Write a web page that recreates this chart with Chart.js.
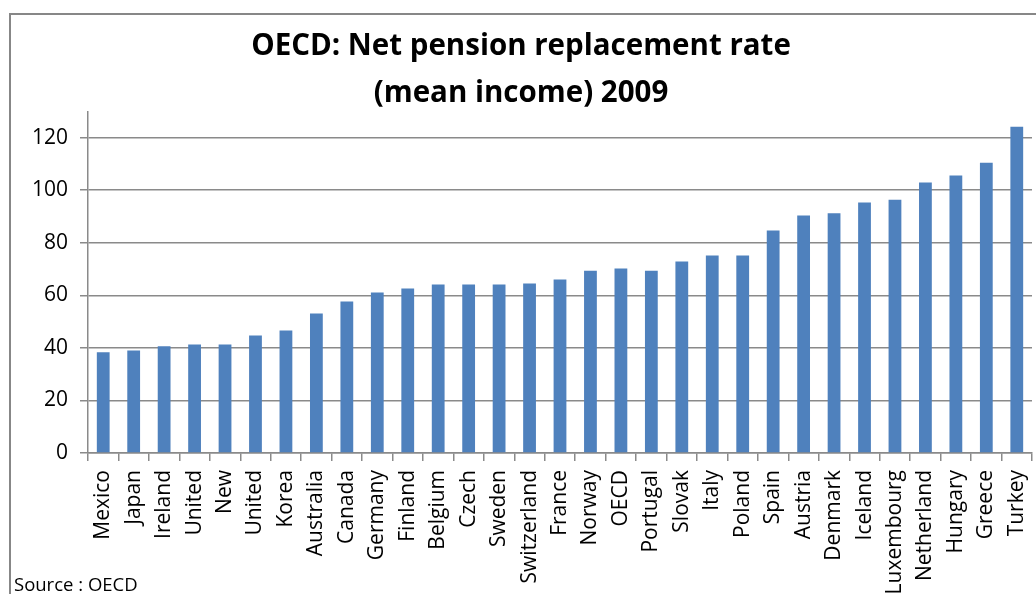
<!DOCTYPE html>
<html>
<head>
<meta charset="utf-8">
<script src="https://cdn.jsdelivr.net/npm/chart.js@4"></script>
<style>
  html, body { margin: 0; padding: 0; background: #fff; overflow: hidden; }
  #wrap { position: relative; width: 1036px; height: 594px; }
  #frame { position: absolute; left: 9px; top: 13px; width: 1100px; height: 700px;
           border: 2px solid #878787; box-sizing: border-box; }
  #c { position: absolute; left: 0; top: 0; }
  #source { position: absolute; left: 14px; top: 571px; font: 18.5px "Open Sans", sans-serif; color: #000; }
</style>
</head>
<body>
<div id="wrap">
  <div id="frame"></div>
  <canvas id="c" width="1036" height="594"></canvas>
  <div id="source">Source : OECD</div>
</div>
<script>
// Страны и значения (чистый коэффициент замещения, %)
const countries = ['Mexico', 'Japan', 'Ireland', 'United', 'New', 'United', 'Korea', 'Australia',
  'Canada', 'Germany', 'Finland', 'Belgium', 'Czech', 'Sweden', 'Switzerland', 'France',
  'Norway', 'OECD', 'Portugal', 'Slovak', 'Italy', 'Poland', 'Spain', 'Austria', 'Denmark',
  'Iceland', 'Luxembourg', 'Netherland', 'Hungary', 'Greece', 'Turkey'];
const rates = [38.3, 39.0, 40.6, 41.3, 41.3, 44.7, 46.6, 53.1,
  57.7, 61.1, 62.6, 64.1, 64.1, 64.1, 64.5, 66.0,
  69.4, 70.2, 69.4, 72.9, 75.2, 75.2, 84.7, 90.4, 91.2,
  95.3, 96.4, 102.9, 105.6, 110.5, 124.2];
const yTicks = [0, 20, 40, 60, 80, 100, 120];
const yMax = 130;

const gridGray = '#8a8a8a';
const fontFam = '"Open Sans", sans-serif';

new Chart(document.getElementById('c'), {
  type: 'bar',
  data: {
    labels: countries,
    datasets: [{
      data: rates,
      backgroundColor: '#4F81BD',
      borderWidth: 0,
      barPercentage: 0.42,
      categoryPercentage: 1
    }]
  },
  options: {
    responsive: false,
    animation: false,
    layout: { padding: { left: 10, right: 4, top: 0, bottom: 0 } },
    plugins: {
      legend: { display: false },
      tooltip: { enabled: false },
      title: {
        display: true,
        text: ['OECD: Net pension replacement rate', '(mean income) 2009'],
        color: '#000',
        font: { family: fontFam, size: 29.5, weight: 'bold', lineHeight: 1.6 },
        padding: { top: 23, bottom: -6 }
      }
    },
    scales: {
      x: {
        afterFit: (s) => { s.height = 141; s.paddingLeft = 0; s.paddingRight = 0; },
        grid: { drawOnChartArea: false, drawTicks: true, tickLength: 8, color: gridGray, lineWidth: 1.5 },
        border: { color: gridGray, width: 1.5 },
        ticks: {
          minRotation: 90, maxRotation: 90, autoSkip: false, padding: 9,
          color: '#000', font: { family: fontFam, size: 21 }
        }
      },
      y: {
        min: 0,
        max: yMax,
        afterFit: (s) => { s.width = 78; },
        afterBuildTicks: (s) => { s.ticks = yTicks.map(v => ({ value: v })); },
        grid: { color: gridGray, lineWidth: 1.5, tickLength: 8 },
        border: { color: gridGray, width: 1.5 },
        ticks: { padding: 12, color: '#000', font: { family: fontFam, size: 21 } }
      }
    }
  }
});
</script>
</body>
</html>
